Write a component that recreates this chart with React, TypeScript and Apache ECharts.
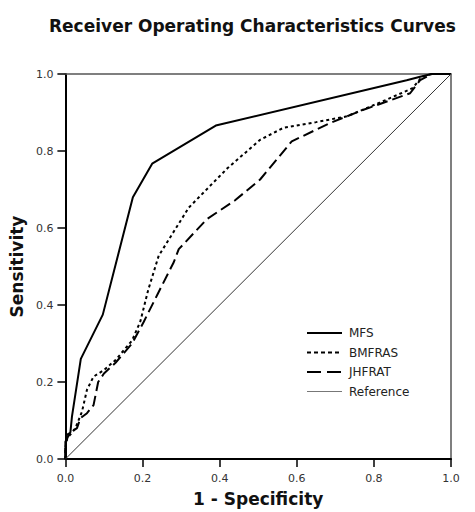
import React, { useEffect, useRef } from "react";
import * as echarts from "echarts";

const titleText = "Receiver Operating Characteristics Curves";
const xAxisTitle = "1 - Specificity";
const yAxisTitle = "Sensitivity";
const seriesNames = ["MFS", "BMFRAS", "JHFRAT", "Reference"];

const mfsX = [0, 0, 0.013, 0.017, 0.04, 0.097, 0.175, 0.225, 0.39, 0.885, 0.92, 0.95, 1];
const mfsY = [0, 0.045, 0.07, 0.11, 0.26, 0.375, 0.68, 0.767, 0.866, 0.984, 0.993, 1, 1];

const bmfrasX = [0, 0, 0.005, 0.026, 0.043, 0.056, 0.073, 0.1, 0.13, 0.173, 0.194, 0.215, 0.242, 0.32, 0.42, 0.505, 0.565, 0.65, 0.73, 0.816, 0.9, 0.925, 0.95, 1];
const bmfrasY = [0, 0.03, 0.054, 0.08, 0.123, 0.18, 0.214, 0.231, 0.257, 0.308, 0.356, 0.44, 0.528, 0.653, 0.755, 0.829, 0.86, 0.875, 0.89, 0.926, 0.963, 0.993, 1, 1];

const jhfratX = [0, 0, 0.004, 0.03, 0.039, 0.056, 0.073, 0.085, 0.1, 0.13, 0.173, 0.203, 0.24, 0.281, 0.294, 0.367, 0.44, 0.505, 0.587, 0.687, 0.773, 0.894, 0.92, 0.95, 1];
const jhfratY = [0, 0.03, 0.063, 0.08, 0.106, 0.119, 0.14, 0.2, 0.222, 0.25, 0.3, 0.356, 0.43, 0.511, 0.545, 0.623, 0.672, 0.726, 0.825, 0.873, 0.907, 0.95, 0.984, 1, 1];

const refX = [0, 1];
const refY = [0, 1];

const axisTicks = [0, 0.2, 0.4, 0.6, 0.8, 1.0];

const FONT = "DejaVu Sans";

function pairs(xs: number[], ys: number[]) {
  return xs.map((x, i) => [x, ys[i]]);
}

export default function App() {
  const ref = useRef<HTMLDivElement>(null);
  useEffect(() => {
    const chart = echarts.init(ref.current!, null, { renderer: "svg" });
    const tickMin = axisTicks[0];
    const tickMax = axisTicks[axisTicks.length - 1];
    const tickInterval = axisTicks[1] - axisTicks[0];
    const lineW = 2;

    const styles = [
      { color: "#000", width: lineW, type: "solid" as any, dash: null as number[] | null },
      { color: "#000", width: lineW, type: [3, 3] as any, dash: [4, 3] },
      { color: "#000", width: lineW, type: [11, 5] as any, dash: [14, 6] },
      { color: "#333", width: 1, type: "solid" as any, dash: null },
    ];
    const legendStyles = [
      { color: "#000", width: 2 },
      { color: "#000", width: 2 },
      { color: "#000", width: 2 },
      { color: "#777", width: 1 },
    ];

    const legendLeft = 307;
    const legendTop = 333;
    const legendStep = 19.5;
    const legendLineLen = 35;
    const legendGraphics: any[] = [];
    seriesNames.forEach((name, i) => {
      const y = legendTop + i * legendStep;
      const ls: any = {
        stroke: legendStyles[i].color,
        lineWidth: legendStyles[i].width,
      };
      if (styles[i].dash) ls.lineDash = styles[i].dash;
      legendGraphics.push({
        type: "line",
        silent: true,
        shape: { x1: legendLeft, y1: y, x2: legendLeft + legendLineLen, y2: y },
        style: ls,
      });
      legendGraphics.push({
        type: "text",
        silent: true,
        x: legendLeft + legendLineLen + 7,
        y: y,
        style: {
          text: name,
          fontFamily: FONT,
          fontSize: 12,
          fill: "#222",
          verticalAlign: "middle",
          align: "left",
        },
      });
    });

    const seriesData = [
      pairs(mfsX, mfsY),
      pairs(bmfrasX, bmfrasY),
      pairs(jhfratX, jhfratY),
      pairs(refX, refY),
    ];

    chart.setOption({
      animation: false,
      backgroundColor: "#ffffff",
      title: {
        text: titleText,
        left: 44,
        top: 12,
        textStyle: { fontFamily: FONT, fontSize: 17, fontWeight: "bold", color: "#111" },
      },
      graphic: legendGraphics,
      grid: { left: 65, right: 24, top: 74, bottom: 51, containLabel: false },
      xAxis: [
        {
          type: "value",
          position: "bottom",
          min: tickMin,
          max: tickMax,
          interval: tickInterval,
          name: xAxisTitle,
          nameLocation: "middle",
          nameGap: 31,
          nameTextStyle: { fontFamily: FONT, fontSize: 17, fontWeight: "bold", color: "#111" },
          axisLine: { show: true, lineStyle: { color: "#000", width: 2 } },
          axisTick: { show: true, inside: false, length: 8, lineStyle: { color: "#000", width: 1.5 } },
          axisLabel: { margin: 14, fontFamily: FONT, fontSize: 11, color: "#333", formatter: (v: number) => v.toFixed(1) },
          splitLine: { show: false },
        },
        {
          type: "value",
          position: "top",
          min: tickMin,
          max: tickMax,
          interval: tickInterval,
          axisLine: { show: true, onZero: false, lineStyle: { color: "#555", width: 1.5 } },
          axisTick: { show: false },
          axisLabel: { show: false },
          splitLine: { show: false },
        },
      ],
      yAxis: [
        {
          type: "value",
          position: "left",
          min: tickMin,
          max: tickMax,
          interval: tickInterval,
          name: yAxisTitle,
          nameLocation: "middle",
          nameGap: 39,
          nameRotate: 90,
          nameTextStyle: { fontFamily: FONT, fontSize: 17, fontWeight: "bold", color: "#111" },
          axisLine: { show: true, lineStyle: { color: "#000", width: 2 } },
          axisTick: { show: true, inside: false, length: 8, lineStyle: { color: "#000", width: 1.5 } },
          axisLabel: { margin: 12, fontFamily: FONT, fontSize: 11, color: "#333", formatter: (v: number) => v.toFixed(1) },
          splitLine: { show: false },
        },
        {
          type: "value",
          position: "right",
          min: tickMin,
          max: tickMax,
          interval: tickInterval,
          axisLine: { show: true, onZero: false, lineStyle: { color: "#555", width: 1.5 } },
          axisTick: { show: false },
          axisLabel: { show: false },
          splitLine: { show: false },
        },
      ],
      series: seriesNames.map((name, i) => ({
        name,
        type: "line",
        data: seriesData[i],
        symbol: "none",
        showSymbol: false,
        lineStyle: { color: styles[i].color, width: styles[i].width, type: styles[i].type },
        itemStyle: { color: styles[i].color },
      })),
    });
    return () => chart.dispose();
  }, []);
  return (
    <div
      ref={ref}
      style={{ position: "absolute", left: 0, top: 0, width: 475, height: 512 }}
    />
  );
}
